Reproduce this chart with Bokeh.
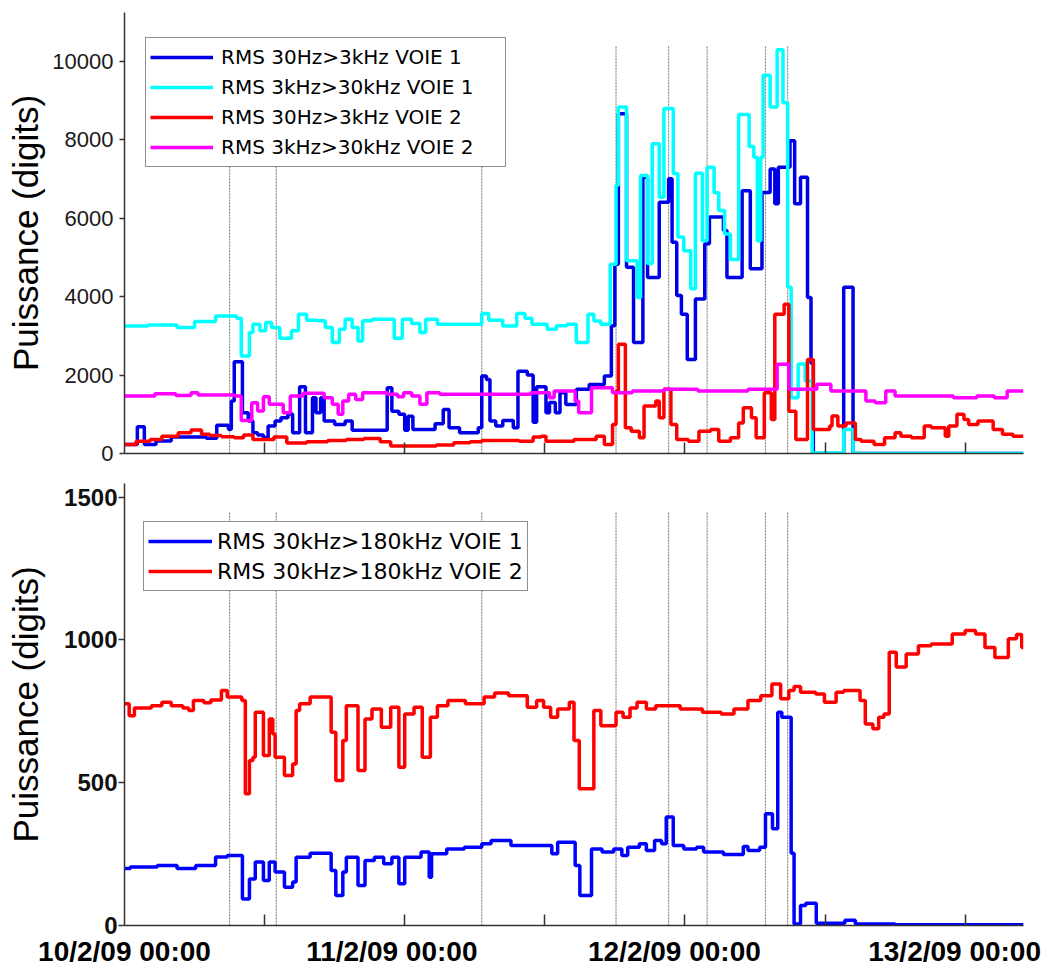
from bokeh.plotting import figure
from bokeh.layouts import column
from bokeh.models import Range1d, FixedTicker, Legend, LegendItem
from bokeh.embed import file_html
from bokeh.resources import INLINE

# ---------------- data (hours since 10/2/09 00:00, step starts) ----------------
x_tick_marks = [12, 24, 36, 48, 60, 72]
x_label_hours = [0, 22.9, 47.1, 71.1]
x_tick_labels = ["10/2/09 00:00", "11/2/09 00:00", "12/2/09 00:00", "13/2/09 00:00"]
y_ticks_top = [0, 2000, 4000, 6000, 8000, 10000]
y_ticks_bot = [0, 500, 1000, 1500]
event_hours = [9.0, 13.0, 30.6, 42.1, 46.6, 49.9, 54.9, 56.8]
event_top_top = 10400
event_top_bot = 1450

labels_top = ["RMS 30Hz>3kHz VOIE 1", "RMS 3kHz>30kHz VOIE 1",
              "RMS 30Hz>3kHz VOIE 2", "RMS 3kHz>30kHz VOIE 2"]
labels_bot = ["RMS 30kHz>180kHz VOIE 1", "RMS 30kHz>180kHz VOIE 2"]

# RMS 30Hz>3kHz VOIE 1
t_b1 = [0, 1.1, 1.7, 2.7, 4.0, 7.0, 7.9, 8.9, 9.15, 9.4, 10.1, 10.6, 11.0, 11.4, 11.9, 12.3,
        12.9, 13.4, 14.0, 14.4, 15.0, 15.5, 16.1, 16.4, 16.8, 17.1, 18.0, 18.9, 19.5, 22.5,
        22.9, 23.5, 24.0, 24.3, 24.7, 26.6, 27.3, 27.8, 28.7, 30.3, 30.6, 31.0, 31.3, 31.8,
        32.4, 33.3, 33.7, 34.5, 35.0, 35.3, 36.1, 36.4, 36.9, 37.3, 37.8, 38.7, 39.8, 41.1,
        41.7, 42.0, 42.3, 43.0, 43.6, 44.4, 44.8, 45.8, 46.6, 46.9, 47.3, 47.7, 48.2, 48.9,
        49.7, 50.1, 51.3, 51.6, 52.9, 53.6, 54.6, 55.3, 55.7, 56.0, 57.0, 57.4, 57.9, 58.5,
        58.8, 59.0, 61.6, 62.4, 77]
v_b1 = [230, 680, 230, 320, 420, 390, 720, 620, 1340, 2340, 1040, 830, 530, 470, 400, 700,
        830, 910, 1010, 530, 1700, 530, 1420, 1040, 1420, 830, 740, 830, 590, 1680,
        1080, 1000, 590, 950, 610, 760, 1120, 660, 530, 660, 1980, 1890, 830, 700,
        840, 660, 2100, 2000, 800, 1700, 1040, 1300, 1040, 1550, 1250, 1640, 1760, 1980,
        3260, 4830, 8670, 4750, 2830, 7050, 4490, 6410, 7010, 5390, 4030, 3550, 2400, 3940,
        5350, 6030, 5690, 4490, 6700, 4710, 6660, 7260, 6370, 7300, 7980, 6370, 7050, 3980,
        2300, 0, 4240, 0, 0]

# RMS 3kHz>30kHz VOIE 1
t_c1 = [0, 2.0, 4.5, 6.0, 7.8, 9.6, 10.0, 10.7, 11.0, 11.6, 12.1, 12.6, 13.3, 14.3, 14.9,
        15.6, 16.5, 17.2, 17.8, 18.4, 18.9, 19.5, 20.0, 20.4, 21.2, 23.1, 23.8, 24.6, 25.3,
        25.8, 26.8, 30.6, 31.2, 32.4, 33.6, 34.3, 34.9, 36.2, 37.0, 37.9, 38.7, 39.7, 40.2,
        40.8, 41.6, 42.1, 42.3, 43.0, 43.9, 44.2, 44.8, 45.2, 45.8, 46.2, 47.0, 47.4, 47.9,
        48.5, 48.9, 49.5, 49.9, 50.5, 50.9, 51.4, 51.9, 52.6, 53.5, 53.9, 54.2, 54.5, 54.7,
        55.3, 55.9, 56.4, 56.8, 57.1, 57.7, 58.3, 58.9, 61.6, 62.4, 77]
v_c1 = [3250, 3280, 3215, 3370, 3510, 3450, 2490, 3085, 3300, 3130, 3340, 3215, 2940, 3130, 3555,
        3400, 3385, 3215, 2830, 3170, 3425, 3215, 2870, 3385, 3425, 2940, 3425, 3315, 3085,
        3425, 3300, 3570, 3400, 3255, 3570, 3450, 3300, 3170, 3260, 3300, 2830, 3550, 3380,
        3300, 4830, 6840, 8840, 4920, 3980, 7090, 4850, 7900, 6540, 8800, 7140, 5520, 5170,
        4200, 7150, 5430, 7300, 6650, 6200, 5600, 4950, 8650, 7830, 7560, 5430, 7560, 9650,
        8840, 10300, 8950, 4240, 1420, 2280, 1850, 15, 610, 0, 0]

# RMS 30Hz>3kHz VOIE 2
t_r1 = [0, 1.0, 2.2, 3.2, 4.6, 5.7, 6.6, 7.3, 8.3, 9.4, 10.2, 11.0, 12.8, 13.9, 15.6, 17.4,
        19.0, 20.5, 21.9, 22.8, 26.7, 28.2, 29.6, 30.6, 33.8, 35.0, 35.7, 36.1, 38.5, 40.4,
        41.1, 41.8, 42.1, 42.3, 42.9, 43.4, 44.1, 44.5, 45.5, 45.8, 46.2, 46.8, 47.3, 48.3,
        49.2, 50.2, 50.9, 51.9, 52.6, 53.0, 53.7, 54.1, 54.8, 55.4, 55.7, 56.5, 56.9, 57.5,
        58.5, 59.0, 60.4, 60.6, 61.1, 61.8, 62.6, 63.1, 64.2, 65.1, 66.0, 66.5, 67.4, 68.5,
        69.1, 70.3, 70.6, 71.3, 71.9, 72.3, 73.1, 74.4, 75.2, 76.1, 77]
v_r1 = [230, 315, 360, 440, 530, 600, 490, 460, 430, 400, 470, 360, 420, 270, 300, 330,
        360, 385, 300, 190, 215, 275, 300, 330, 315, 420, 440, 315, 360, 440,
        230, 740, 1590, 2790, 660, 570, 400, 1210, 1340, 910, 1640, 740, 360, 315,
        570, 610, 315, 400, 780, 1170, 910, 400, 1550, 870, 3550, 3810, 1080, 360,
        2400, 610, 700, 955, 700, 780, 360, 315, 230, 400, 530, 440, 400, 700,
        655, 440, 700, 1000, 870, 740, 830, 610, 490, 440, 440]

# RMS 3kHz>30kHz VOIE 2
t_m1 = [0, 2.6, 4.4, 5.7, 6.3, 9.4, 10.0, 10.9, 11.4, 11.9, 12.4, 13.6, 14.2, 15.3, 17.1,
        17.8, 18.3, 18.7, 19.2, 19.8, 20.4, 22.5, 23.4, 23.9, 24.6, 25.3, 25.9, 27.0, 34.8,
        36.4, 36.8, 38.6, 38.9, 40.0, 41.8, 43.5, 46.2, 49.1, 53.4, 55.9, 56.9, 59.3, 60.5,
        63.5, 64.3, 65.2, 66.0, 71.0, 73.0, 74.5, 75.6, 77]
v_m1 = [1470, 1525, 1480, 1550, 1490, 1466, 845, 1295, 1085, 1450, 1255, 1040, 1466, 1535, 1425,
        1255, 1000, 1340, 1510, 1380, 1550, 1510, 1450, 1550, 1466, 1255, 1550, 1510, 1550,
        1420, 1594, 1340, 1040, 1680, 1550, 1594, 1637, 1594, 1637, 2275, 1637, 1765, 1594,
        1340, 1295, 1594, 1466, 1424, 1466, 1424, 1594, 1594]

# RMS 30kHz>180kHz VOIE 1
t_b2 = [0, 0.5, 2.8, 4.5, 6.1, 7.8, 8.8, 10.1, 10.7, 11.2, 11.9, 12.4, 12.9, 13.7, 14.4, 14.7,
        15.9, 17.7, 18.1, 18.7, 19.0, 20.0, 20.6, 21.4, 22.2, 22.9, 23.5, 24.0, 25.4, 26.1,
        26.3, 27.6, 29.1, 30.6, 31.4, 33.1, 36.6, 37.1, 38.6, 39.0, 40.0, 40.9, 41.9, 42.6,
        43.1, 44.1, 44.7, 45.4, 46.0, 46.4, 47.0, 47.9, 49.0, 49.6, 51.3, 53.0, 53.4, 54.4,
        54.9, 55.5, 55.95, 56.3, 57.1, 57.35, 57.9, 58.35, 59.25, 61.7, 62.6, 66.0, 77]
v_b2 = [200, 205, 210, 200, 210, 240, 245, 93, 163, 222, 158, 222, 187, 134, 152, 239,
        253, 193, 105, 187, 239, 140, 228, 239, 216, 239, 146, 239, 257, 169,
        251, 268, 274, 286, 298, 280, 251, 292, 210, 105, 268, 257, 268, 245,
        274, 286, 263, 298, 286, 380, 280, 268, 274, 257, 249, 277, 263, 274,
        391, 339, 747, 729, 253, 5, 70, 78, 8, 18, 5, 3, 3]

# RMS 30kHz>180kHz VOIE 2
t_r2 = [0, 0.4, 0.85, 2.3, 3.2, 4.0, 5.0, 5.5, 5.9, 6.8, 7.4, 8.3, 8.8, 10.05, 10.35, 10.7,
        11.0, 11.2, 11.9, 12.4, 12.7, 12.9, 13.7, 14.4, 14.7, 15.0, 15.9, 17.7, 18.1, 18.7,
        19.0, 20.0, 20.6, 21.2, 22.0, 22.8, 23.5, 24.0, 24.8, 25.5, 26.2, 26.8, 27.7, 29.2,
        30.8, 31.7, 32.9, 34.5, 35.3, 35.9, 36.5, 37.1, 38.1, 38.5, 38.95, 40.2, 40.8, 42.1,
        42.7, 43.3, 43.9, 44.7, 45.5, 47.6, 49.5, 51.1, 52.2, 53.4, 54.5, 55.45, 56.2, 56.9,
        57.35, 57.9, 59.2, 59.95, 60.95, 61.6, 63.0, 63.45, 64.1, 64.6, 65.05, 65.5, 66.1,
        66.95, 68.0, 69.1, 70.9, 72.0, 72.9, 73.7, 74.55, 75.7, 76.4, 76.85, 77]
v_r2 = [777, 735, 762, 770, 782, 770, 762, 753, 788, 780, 790, 823, 800, 788, 461, 578,
        589, 747, 595, 723, 671, 589, 525, 566, 753, 777, 800, 677, 508, 648,
        770, 543, 723, 758, 694, 764, 554, 741, 764, 589, 729, 770, 788, 777,
        800, 814, 805, 764, 788, 764, 729, 758, 782, 648, 479, 753, 700, 747,
        729, 762, 782, 758, 770, 758, 747, 741, 758, 788, 805, 846, 794, 823,
        837, 817, 811, 782, 817, 823, 788, 706, 689, 729, 741, 957, 905,
        951, 980, 986, 1021, 1033, 1021, 974, 939, 1004, 1019, 974, 974]

colors_top = ["#0000e6", "#00ffff", "#ff0000", "#ff00ff"]
colors_bot = ["#0000ff", "#ff0000"]

X_END = 77
AX = "#333333"


def style(p, ytick_font_style, ytick_size, ytick_color):
    p.xgrid.visible = False
    p.ygrid.visible = False
    p.outline_line_color = None
    p.background_fill_color = "white"
    p.border_fill_color = "white"
    for ax in (p.xaxis[0], p.yaxis[0]):
        ax.axis_line_color = AX
        ax.axis_line_width = 1.5
        ax.major_tick_line_color = AX
        ax.major_tick_line_width = 1.5
        ax.minor_tick_line_color = AX
        ax.minor_tick_line_width = 1.5
    p.xaxis[0].major_tick_in = 0
    p.xaxis[0].major_tick_out = 0
    p.xaxis[0].minor_tick_in = 11
    p.xaxis[0].minor_tick_out = 0
    p.yaxis[0].major_tick_in = 0
    p.yaxis[0].major_tick_out = 5
    p.yaxis[0].minor_tick_line_color = None
    p.yaxis[0].major_label_text_font = "Liberation Sans"
    p.yaxis[0].major_label_text_font_size = ytick_size
    p.yaxis[0].major_label_text_font_style = ytick_font_style
    p.yaxis[0].major_label_text_color = ytick_color
    p.yaxis[0].axis_label = "Puissance (digits)"
    p.yaxis[0].axis_label_text_font = "Liberation Sans"
    p.yaxis[0].axis_label_text_font_size = "35px"
    p.yaxis[0].axis_label_text_font_style = "normal"
    p.yaxis[0].axis_label_text_color = "black"


# ---------------- top panel ----------------
top = figure(width=1054, height=466, output_backend="svg", toolbar_location=None,
             x_range=Range1d(0, X_END), y_range=Range1d(0, 11250),
             min_border_left=123, min_border_right=31, min_border_top=12, min_border_bottom=13)
style(top, "normal", "22px", "#1a1a1a")
top.xaxis[0].ticker = FixedTicker(ticks=[], minor_ticks=x_tick_marks)
top.yaxis[0].ticker = FixedTicker(ticks=y_ticks_top)
top.yaxis[0].major_label_standoff = 6
top.yaxis[0].axis_label_standoff = 4

top.segment(x0=event_hours, y0=[0] * len(event_hours), x1=event_hours,
            y1=[event_top_top] * len(event_hours),
            line_color="#8a8a8a", line_width=1.2, line_dash="2 1")

series_top = [(t_b1, v_b1), (t_c1, v_c1), (t_r1, v_r1), (t_m1, v_m1)]
items_top = []
for (t, v), col, lab in zip(series_top, colors_top, labels_top):
    r = top.step(x=t, y=v, mode="after", line_color=col, line_width=3.5)
    items_top.append(LegendItem(label=lab, renderers=[r]))

leg_top = Legend(items=items_top, location=(21, 286), margin=0, padding=4, spacing=0,
                 label_height=30, glyph_height=30, glyph_width=63, label_standoff=8,
                 label_width=280, label_text_font="DejaVu Sans", label_text_font_size="20px",
                 label_text_color="black", border_line_color="#222222", border_line_width=1.2,
                 background_fill_color="white", background_fill_alpha=1.0)
top.add_layout(leg_top)

# ---------------- bottom panel ----------------
bot = figure(width=1054, height=503, output_backend="svg", toolbar_location=None,
             x_range=Range1d(0, X_END), y_range=Range1d(0, 1548),
             min_border_left=124, min_border_right=31, min_border_top=17, min_border_bottom=44)
style(bot, "bold", "24px", "#111111")
bot.xaxis[0].ticker = FixedTicker(ticks=x_label_hours, minor_ticks=x_tick_marks)
bot.yaxis[0].ticker = FixedTicker(ticks=y_ticks_bot)
bot.yaxis[0].major_tick_out = 6
bot.yaxis[0].major_label_standoff = 1
bot.yaxis[0].axis_label_standoff = 16
bot.xaxis[0].major_label_overrides = {t: lab for t, lab in zip(x_label_hours, x_tick_labels)}
bot.xaxis[0].major_label_text_font = "Liberation Sans"
bot.xaxis[0].major_label_text_font_style = "bold"
bot.xaxis[0].major_label_text_font_size = "28px"
bot.xaxis[0].major_label_text_color = "black"
bot.xaxis[0].major_label_standoff = 10

bot.segment(x0=event_hours, y0=[0] * len(event_hours), x1=event_hours,
            y1=[event_top_bot] * len(event_hours),
            line_color="#8a8a8a", line_width=1.2, line_dash="2 1")

series_bot = [(t_b2, v_b2), (t_r2, v_r2)]
items_bot = []
for (t, v), col, lab in zip(series_bot, colors_bot, labels_bot):
    r = bot.step(x=t, y=v, mode="after", line_color=col, line_width=3.5)
    items_bot.append(LegendItem(label=lab, renderers=[r]))

leg_bot = Legend(items=items_bot, location=(19, 334), margin=0, padding=4, spacing=0,
                 label_height=30, glyph_height=30, glyph_width=64, label_standoff=5,
                 label_width=303, label_text_font="DejaVu Sans", label_text_font_size="22px",
                 label_text_color="black", border_line_color="#222222", border_line_width=1.2,
                 background_fill_color="white", background_fill_alpha=1.0)
bot.add_layout(leg_bot)

layout = column(top, bot, spacing=0)
open("out.html", "w").write(file_html(layout, INLINE))
